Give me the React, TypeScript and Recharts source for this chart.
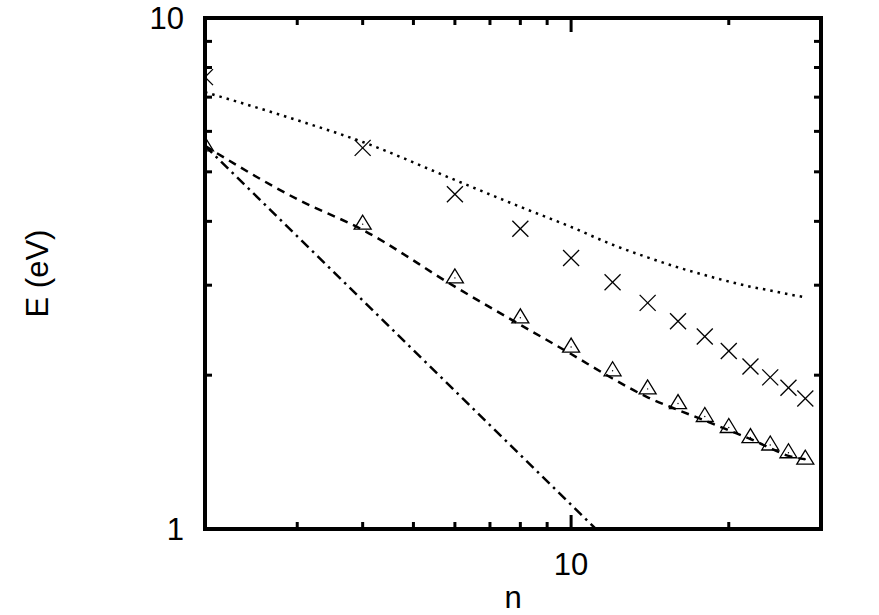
import React from 'react';
import {
  ComposedChart,
  Line,
  Scatter,
  XAxis,
  YAxis,
  ReferenceArea,
  Label,
} from 'recharts';

// sample sizes where the two measured sets were taken
const N_POINTS = [2, 4, 6, 8, 10, 12, 14, 16, 18, 20, 22, 24, 26, 28];
const CROSS_E = [7.66, 5.57, 4.52, 3.87, 3.39, 3.04, 2.77, 2.55, 2.38, 2.23, 2.08, 1.98, 1.89, 1.8];
const TRIANGLE_E = [5.62, 3.95, 3.1, 2.59, 2.27, 2.04, 1.88, 1.76, 1.66, 1.58, 1.51, 1.46, 1.41, 1.37];

// model curves
const DOTTED_N = [2, 3, 4, 6, 8, 10, 12, 14, 16, 18, 20, 22, 24, 26, 28];
const DOTTED_E = [7.16, 6.31, 5.72, 4.82, 4.27, 3.9, 3.6, 3.4, 3.25, 3.14, 3.05, 2.98, 2.93, 2.88, 2.84];
const DASHED_N = [2, 3, 4, 6, 8, 10, 12, 14, 16, 18, 20, 22, 24, 26, 28];
const DASHED_E = [5.62, 4.42, 3.85, 2.98, 2.51, 2.2, 1.97, 1.81, 1.71, 1.63, 1.56, 1.5, 1.44, 1.39, 1.37];
const DASHDOT_N = [2, 11.15];
const DASHDOT_E = [5.62, 1.0];

const X_TICKS = [3, 4, 5, 6, 7, 8, 9, 10, 20];
const Y_TICKS = [1, 2, 3, 4, 5, 6, 7, 8, 9, 10];
const X_LABELED = [10];
const Y_LABELED = [1, 10];

const toRows = (ns: number[], es: number[]) => ns.map((n, i) => ({ n, E: es[i] }));
const crosses = toRows(N_POINTS, CROSS_E);
const triangles = toRows(N_POINTS, TRIANGLE_E);
const dotted = toRows(DOTTED_N, DOTTED_E);
const dashed = toRows(DASHED_N, DASHED_E);
const dashDot = toRows(DASHDOT_N, DASHDOT_E);

const W = 879;
const H = 615;
const MARGIN = { top: 18, right: 58, left: 145, bottom: 46 };
const Y_AXIS_W = 60;
const X_AXIS_H = 40;
const PLOT_W = W - MARGIN.left - MARGIN.right - Y_AXIS_W;
const PLOT_H = H - MARGIN.top - MARGIN.bottom - X_AXIS_H;

const FONT = '"Liberation Sans", Arial, Helvetica, sans-serif';
const FS = 31;
const MAJOR = 14;
const MINOR = 7;

const XTick = (props: any) => {
  const { x, y, payload } = props;
  const major = X_LABELED.includes(payload.value);
  const len = major ? MAJOR : MINOR;
  return (
    <g>
      <line x1={x} y1={y} x2={x} y2={y - len} stroke="#000" strokeWidth={3} />
      <line x1={x} y1={y - PLOT_H} x2={x} y2={y - PLOT_H + len} stroke="#000" strokeWidth={3} />
      {major && (
        <text x={x} y={y + 46} textAnchor="middle" fontSize={FS} fontFamily={FONT} fill="#000">
          {payload.value}
        </text>
      )}
    </g>
  );
};

const YTick = (props: any) => {
  const { x, y, payload } = props;
  const major = Y_LABELED.includes(payload.value);
  const len = major ? MAJOR : MINOR;
  return (
    <g>
      {!major && (
        <>
          <line x1={x} y1={y} x2={x + len} y2={y} stroke="#000" strokeWidth={3} />
          <line x1={x + PLOT_W} y1={y} x2={x + PLOT_W - len} y2={y} stroke="#000" strokeWidth={3} />
        </>
      )}
      {major && (
        <text x={x - 21} y={y + 11} textAnchor="end" fontSize={FS} fontFamily={FONT} fill="#000">
          {payload.value}
        </text>
      )}
    </g>
  );
};

const CrossMark = (props: any) => {
  const { cx, cy } = props;
  const s = 8;
  return (
    <g stroke="#000" strokeWidth={1.3}>
      <line x1={cx - s} y1={cy - s} x2={cx + s} y2={cy + s} />
      <line x1={cx - s} y1={cy + s} x2={cx + s} y2={cy - s} />
    </g>
  );
};

const TriangleMark = (props: any) => {
  const { cx, cy } = props;
  return (
    <g>
      <polygon
        points={`${cx},${cy - 9} ${cx - 8.5},${cy + 5} ${cx + 8.5},${cy + 5}`}
        fill="none"
        stroke="#000"
        strokeWidth={1.3}
      />
      <circle cx={cx} cy={cy} r={0.7} fill="#000" />
    </g>
  );
};

const YTitle = (props: any) => {
  const { viewBox } = props;
  const cx = viewBox.x - 108;
  const cy = viewBox.y + viewBox.height / 2;
  return (
    <text
      x={cx}
      y={cy}
      transform={`rotate(-90 ${cx} ${cy})`}
      textAnchor="middle"
      dominantBaseline="central"
      fontSize={FS}
      fontFamily={FONT}
      fill="#000"
    >
      E (eV)
    </text>
  );
};

const XTitle = (props: any) => {
  const { viewBox } = props;
  return (
    <text
      x={viewBox.x + viewBox.width / 2}
      y={viewBox.y + 79}
      textAnchor="middle"
      fontSize={FS}
      fontFamily={FONT}
      fill="#000"
    >
      n
    </text>
  );
};

const App = () => {
  return (
    <div style={{ position: 'absolute', left: 0, top: 0, background: '#fff' }}>
      <ComposedChart width={W} height={H} margin={MARGIN}>
        <XAxis
          dataKey="n"
          type="number"
          scale="log"
          domain={[2, 30]}
          allowDataOverflow
          ticks={X_TICKS}
          interval={0}
          height={X_AXIS_H}
          tickSize={0}
          tickMargin={0}
          tickLine={false}
          axisLine={false}
          tick={<XTick />}
        >
          <Label content={<XTitle />} />
        </XAxis>
        <YAxis
          dataKey="E"
          type="number"
          scale="log"
          domain={[1, 10]}
          allowDataOverflow
          ticks={Y_TICKS}
          interval={0}
          width={Y_AXIS_W}
          tickSize={0}
          tickMargin={0}
          tickLine={false}
          axisLine={false}
          tick={<YTick />}
        >
          <Label content={<YTitle />} />
        </YAxis>
        <Line
          data={dotted}
          dataKey="E"
          type="monotone"
          stroke="#000"
          strokeWidth={2.5}
          strokeDasharray="2.5 5"
          dot={false}
          activeDot={false}
          isAnimationActive={false}
        />
        <Line
          data={dashed}
          dataKey="E"
          type="monotone"
          stroke="#000"
          strokeWidth={2.5}
          strokeDasharray="8 6"
          dot={false}
          activeDot={false}
          isAnimationActive={false}
        />
        <Line
          data={dashDot}
          dataKey="E"
          type="linear"
          stroke="#000"
          strokeWidth={2.5}
          strokeDasharray="10 5 2.5 5"
          dot={false}
          activeDot={false}
          isAnimationActive={false}
        />
        <Scatter data={crosses} dataKey="E" shape={<CrossMark />} isAnimationActive={false} />
        <Scatter data={triangles} dataKey="E" shape={<TriangleMark />} isAnimationActive={false} />
        <ReferenceArea
          x1={2}
          x2={30}
          y1={1}
          y2={10}
          fill="none"
          fillOpacity={0}
          stroke="#000"
          strokeWidth={4}
          ifOverflow="visible"
        />
      </ComposedChart>
    </div>
  );
};

export default App;
